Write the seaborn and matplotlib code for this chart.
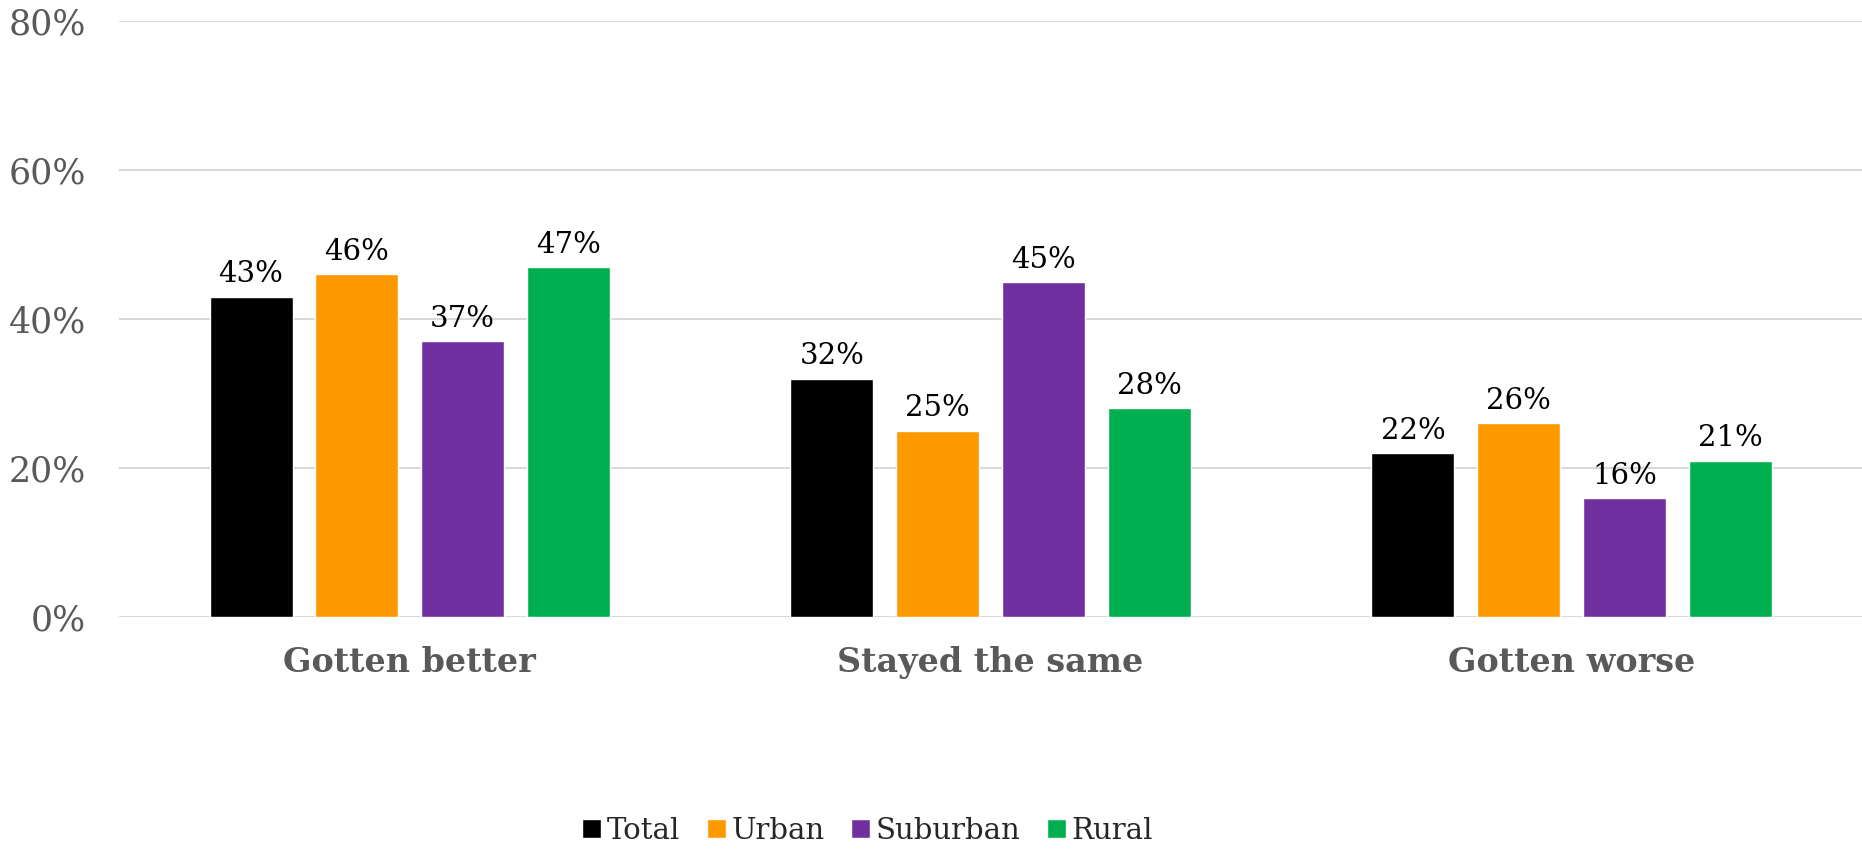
import matplotlib

matplotlib.use("Agg")

import matplotlib.pyplot as plt
import pandas as pd
import seaborn as sns
from matplotlib.ticker import FuncFormatter

# values (percent)
categories = ["Gotten better", "Stayed the same", "Gotten worse"]
groups = ["Total", "Urban", "Suburban", "Rural"]
total = [43, 32, 22]
urban = [46, 25, 26]
suburban = [37, 45, 16]
rural = [47, 28, 21]
y_ticks = [0, 20, 40, 60, 80]

colors = ["#000000", "#FF9900", "#7030A0", "#00B050"]
GREY = "#595959"


def build_frame() -> pd.DataFrame:
    rows = []
    for name, vals in zip(groups, [total, urban, suburban, rural]):
        for cat, v in zip(categories, vals):
            rows.append({"category": cat, "group": name, "value": v})
    return pd.DataFrame(rows)


def main() -> None:
    sns.set_theme(style="white")
    plt.rcParams["font.family"] = ["DejaVu Serif"]

    df = build_frame()
    fig = plt.figure(figsize=(18.62, 8.51), dpi=100)
    ax = fig.add_axes([0.064, 0.275, 0.936, 0.70])

    sns.barplot(data=df, x="category", y="value", hue="group",
                order=categories, hue_order=groups, palette=colors,
                width=0.728, gap=0.215, saturation=1, ax=ax, legend=True)

    for cont in ax.containers:
        ax.bar_label(cont, fmt="%d%%", padding=6, fontsize=21, color="black")

    ax.set_ylim(0, 80)
    ax.set_xlim(-0.5, 2.5)
    ax.set_yticks(y_ticks)
    ax.yaxis.set_major_formatter(FuncFormatter(lambda v, _: f"{v:.0f}%"))
    ax.grid(axis="y", color="#d9d9d9", linewidth=1.5)
    ax.set_axisbelow(True)
    for s in ax.spines.values():
        s.set_visible(False)
    ax.tick_params(axis="y", length=0, pad=24, labelsize=25, labelcolor=GREY)
    ax.tick_params(axis="x", length=0, pad=21, labelcolor=GREY)
    for t in ax.get_xticklabels():
        t.set_fontsize(24)
        t.set_fontweight("bold")
    ax.set_xlabel("")
    ax.set_ylabel("")

    handles, labels = ax.get_legend_handles_labels()
    ax.legend_.remove()
    fig.legend(handles, labels, loc="center", bbox_to_anchor=(0.466, 0.024),
               bbox_transform=fig.transFigure, ncol=4, frameon=False,
               fontsize=21, handlelength=0.65, handleheight=0.65,
               handletextpad=0.2, columnspacing=0.9, borderpad=0.2)

    fig.savefig("out.png", dpi=100)
    plt.close(fig)


if __name__ == "__main__":
    main()
